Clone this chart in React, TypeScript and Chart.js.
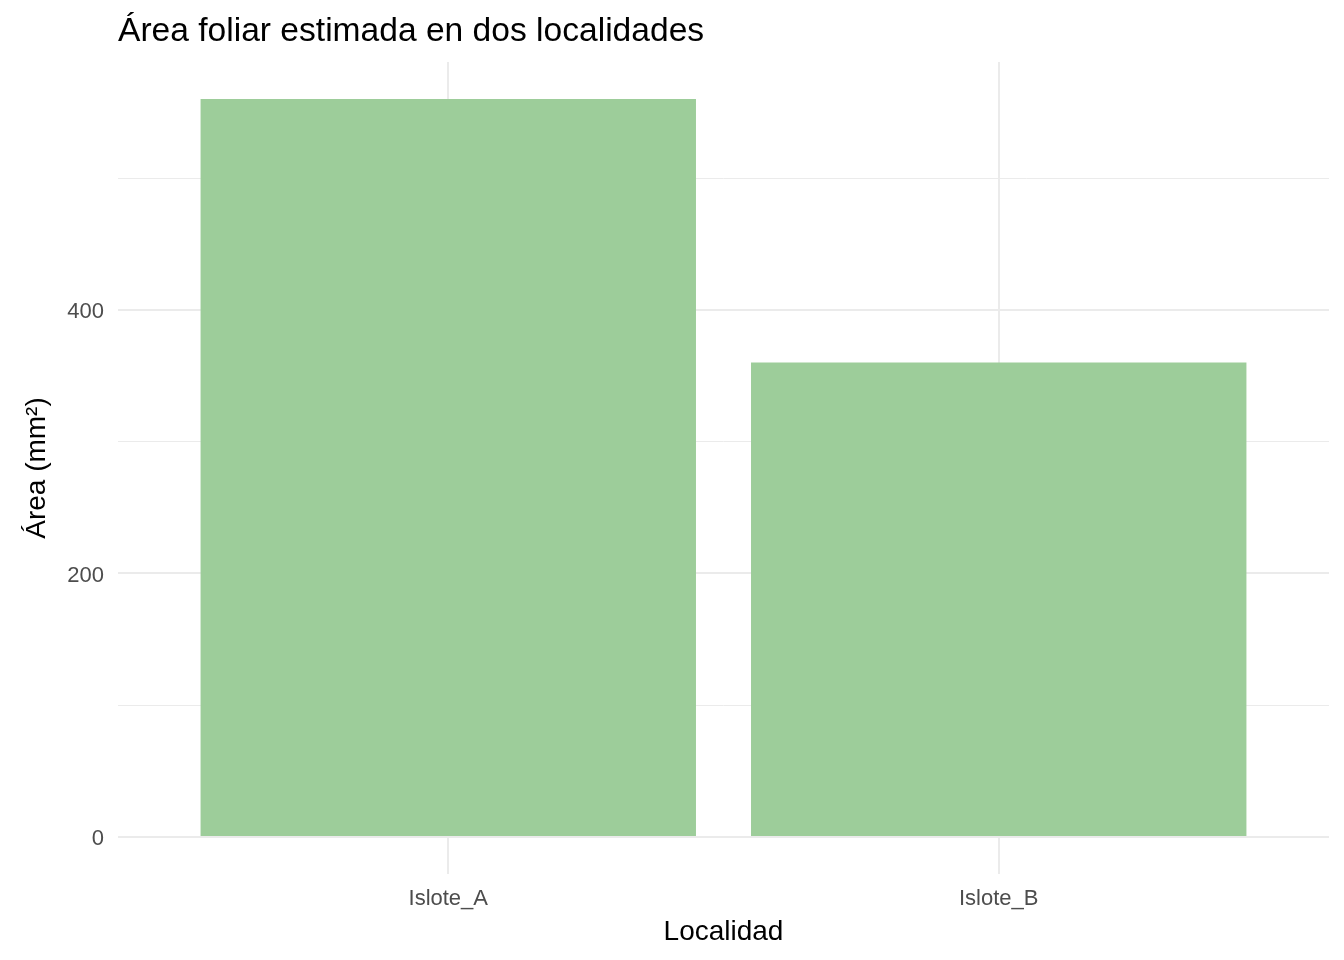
import { useRef, useEffect } from 'react';
import Chart from 'chart.js/auto';

const categories = ['Islote_A', 'Islote_B'];
const areaValues = [560, 360];
const yTickValues = [0, 100, 200, 300, 400, 500];
const yLabelledTicks = [0, 200, 400];

const FONT = '"Liberation Sans", Arial, sans-serif';
const GRID = '#EBEBEB';
const TICK_COLOR = '#4D4D4D';

const App = () => {
  const chartRef = useRef<HTMLCanvasElement | null>(null);
  const chartInstance = useRef<Chart | null>(null);

  useEffect(() => {
    document.body.style.margin = '0';
    if (!chartRef.current) return;

    if (chartInstance.current) {
      chartInstance.current.destroy();
    }

    // ggplot-style expansion: 5% of range on the y axis, 0.6 units on the discrete x axis
    const yMax = Math.max(...areaValues);
    const pad = yMax * 0.05;

    chartInstance.current = new Chart(chartRef.current, {
      type: 'bar',
      data: {
        datasets: [{
          data: areaValues.map((v, i) => ({ x: i + 1, y: v })),
          backgroundColor: '#9DCD9A',
          borderWidth: 0,
          barPercentage: 0.9,
          categoryPercentage: 1,
        }],
      },
      options: {
        animation: false,
        responsive: true,
        maintainAspectRatio: false,
        layout: { padding: { left: 0, right: 15, top: 0, bottom: 0 } },
        plugins: {
          legend: { display: false },
          tooltip: { enabled: false },
          title: {
            display: true,
            text: 'Área foliar estimada en dos localidades',
            align: 'start',
            fullSize: false,
            color: '#000000',
            font: { family: FONT, size: 33.6, weight: 'normal' },
            padding: { top: 12, bottom: 9.7 },
          },
        },
        scales: {
          x: {
            type: 'linear',
            min: 0.4,
            max: 2.6,
            offset: false,
            afterBuildTicks: (scale: any) => {
              scale.ticks = categories.map((_, i) => ({ value: i + 1 }));
            },
            afterFit: (scale: any) => {
              scale.height = 86;
            },
            ticks: {
              color: TICK_COLOR,
              font: { family: FONT, size: 22 },
              padding: 12,
              callback: (value: any) => categories[Number(value) - 1] ?? '',
            },
            grid: { color: GRID, lineWidth: 2, drawTicks: false, offset: false },
            border: { display: false },
            title: {
              display: true,
              text: 'Localidad',
              color: '#000000',
              font: { family: FONT, size: 28 },
              padding: { top: 0, bottom: 11 },
            },
          },
          y: {
            type: 'linear',
            min: -pad,
            max: yMax + pad,
            afterBuildTicks: (scale: any) => {
              scale.ticks = yTickValues.map(v => ({ value: v }));
            },
            afterFit: (scale: any) => {
              scale.width = 118;
            },
            ticks: {
              color: TICK_COLOR,
              font: { family: FONT, size: 22 },
              padding: 14,
              labelOffset: 2,
              callback: (value: any) => (yLabelledTicks.includes(Number(value)) ? String(value) : ''),
            },
            grid: {
              color: GRID,
              drawTicks: false,
              lineWidth: (ctx: any) => (yLabelledTicks.includes(ctx.tick?.value) ? 2 : 1),
            },
            border: { display: false },
            title: {
              display: true,
              text: 'Área (mm²)',
              color: '#000000',
              font: { family: FONT, size: 28 },
              padding: { top: 20, bottom: 0 },
            },
          },
        },
      },
    });

    return () => {
      if (chartInstance.current) {
        chartInstance.current.destroy();
        chartInstance.current = null;
      }
    };
  }, []);

  return (
    <div style={{ position: 'fixed', left: 0, top: 0, width: 1344, height: 960, background: '#ffffff' }}>
      <canvas ref={chartRef} />
    </div>
  );
};

export default App;
